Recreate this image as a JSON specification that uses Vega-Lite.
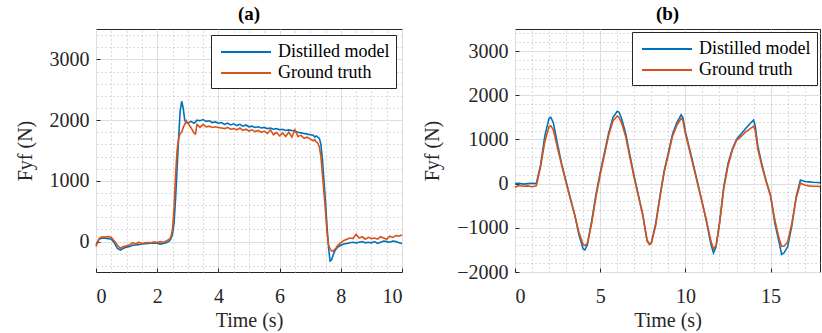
{
  "$schema": "https://vega.github.io/schema/vega-lite/v6.json",
  "background": "white",
  "padding": {"left": 14, "top": 4, "right": 0, "bottom": 0},
  "spacing": 113,
  "bounds": "flush",
  "resolve": {"scale": {"color": "independent"}, "legend": {"color": "independent"}},
  "config": {
    "view": {"stroke": "#262626", "strokeWidth": 1},
    "axis": {
      "titleFont": "Liberation Serif", "labelFont": "Liberation Serif",
      "labelFontSize": 20, "titleFontSize": 20, "titleFontWeight": "normal",
      "labelColor": "#262626", "titleColor": "#262626",
      "tickColor": "#262626", "domain": false,
      "gridColor": "#dedede", "gridWidth": 1
    },
    "legend": {"labelFont": "Liberation Serif", "labelFontSize": 18, "labelColor": "#000000"},
    "title": {"font": "Liberation Serif", "fontSize": 19, "fontWeight": "bold", "color": "#000000", "offset": 5}
  },
  "hconcat": [
    {
      "title": "(a)",
      "width": 306,
      "height": 243,
      "data": {"values": [
        {"t":0.0,"Distilled model":-50,"Ground truth":-80},
        {"t":0.1,"Distilled model":40,"Ground truth":50},
        {"t":0.2,"Distilled model":60,"Ground truth":80},
        {"t":0.3,"Distilled model":55,"Ground truth":75},
        {"t":0.4,"Distilled model":50,"Ground truth":85},
        {"t":0.5,"Distilled model":40,"Ground truth":70},
        {"t":0.6,"Distilled model":-20,"Ground truth":10},
        {"t":0.7,"Distilled model":-110,"Ground truth":-60},
        {"t":0.8,"Distilled model":-140,"Ground truth":-110},
        {"t":0.9,"Distilled model":-110,"Ground truth":-80},
        {"t":1.0,"Distilled model":-90,"Ground truth":-70},
        {"t":1.1,"Distilled model":-80,"Ground truth":-50},
        {"t":1.2,"Distilled model":-60,"Ground truth":-20},
        {"t":1.3,"Distilled model":-55,"Ground truth":-40},
        {"t":1.4,"Distilled model":-50,"Ground truth":-10},
        {"t":1.5,"Distilled model":-40,"Ground truth":-30},
        {"t":1.6,"Distilled model":-35,"Ground truth":-20},
        {"t":1.7,"Distilled model":-30,"Ground truth":-15},
        {"t":1.8,"Distilled model":-25,"Ground truth":-20},
        {"t":1.9,"Distilled model":-20,"Ground truth":-5},
        {"t":2.0,"Distilled model":-25,"Ground truth":-15},
        {"t":2.1,"Distilled model":-40,"Ground truth":0},
        {"t":2.2,"Distilled model":-30,"Ground truth":-10},
        {"t":2.3,"Distilled model":-20,"Ground truth":10},
        {"t":2.4,"Distilled model":10,"Ground truth":40},
        {"t":2.45,"Distilled model":50,"Ground truth":80},
        {"t":2.5,"Distilled model":120,"Ground truth":200},
        {"t":2.55,"Distilled model":300,"Ground truth":550},
        {"t":2.6,"Distilled model":700,"Ground truth":1100},
        {"t":2.65,"Distilled model":1200,"Ground truth":1500},
        {"t":2.7,"Distilled model":1700,"Ground truth":1700},
        {"t":2.75,"Distilled model":2150,"Ground truth":1780},
        {"t":2.8,"Distilled model":2310,"Ground truth":1800},
        {"t":2.85,"Distilled model":2200,"Ground truth":1880},
        {"t":2.9,"Distilled model":2000,"Ground truth":1930},
        {"t":2.95,"Distilled model":1960,"Ground truth":1990},
        {"t":3.0,"Distilled model":1950,"Ground truth":1950},
        {"t":3.1,"Distilled model":1980,"Ground truth":1880},
        {"t":3.2,"Distilled model":1950,"Ground truth":1790},
        {"t":3.25,"Distilled model":1970,"Ground truth":1770},
        {"t":3.3,"Distilled model":2000,"Ground truth":1930},
        {"t":3.4,"Distilled model":1990,"Ground truth":1880},
        {"t":3.5,"Distilled model":2010,"Ground truth":1930},
        {"t":3.6,"Distilled model":1980,"Ground truth":1890},
        {"t":3.7,"Distilled model":1990,"Ground truth":1900},
        {"t":3.8,"Distilled model":1960,"Ground truth":1880},
        {"t":3.9,"Distilled model":1970,"Ground truth":1890},
        {"t":4.0,"Distilled model":1950,"Ground truth":1880},
        {"t":4.1,"Distilled model":1960,"Ground truth":1870},
        {"t":4.2,"Distilled model":1930,"Ground truth":1860},
        {"t":4.3,"Distilled model":1950,"Ground truth":1880},
        {"t":4.4,"Distilled model":1920,"Ground truth":1850},
        {"t":4.5,"Distilled model":1940,"Ground truth":1860},
        {"t":4.6,"Distilled model":1910,"Ground truth":1840},
        {"t":4.7,"Distilled model":1930,"Ground truth":1870},
        {"t":4.8,"Distilled model":1900,"Ground truth":1830},
        {"t":4.9,"Distilled model":1920,"Ground truth":1850},
        {"t":5.0,"Distilled model":1890,"Ground truth":1820},
        {"t":5.1,"Distilled model":1900,"Ground truth":1840},
        {"t":5.2,"Distilled model":1880,"Ground truth":1810},
        {"t":5.3,"Distilled model":1890,"Ground truth":1830},
        {"t":5.4,"Distilled model":1870,"Ground truth":1800},
        {"t":5.5,"Distilled model":1880,"Ground truth":1820},
        {"t":5.6,"Distilled model":1860,"Ground truth":1780},
        {"t":5.7,"Distilled model":1870,"Ground truth":1840},
        {"t":5.8,"Distilled model":1850,"Ground truth":1760},
        {"t":5.9,"Distilled model":1860,"Ground truth":1800},
        {"t":6.0,"Distilled model":1840,"Ground truth":1740},
        {"t":6.1,"Distilled model":1850,"Ground truth":1790},
        {"t":6.2,"Distilled model":1830,"Ground truth":1730},
        {"t":6.3,"Distilled model":1840,"Ground truth":1800},
        {"t":6.4,"Distilled model":1830,"Ground truth":1720},
        {"t":6.5,"Distilled model":1820,"Ground truth":1840},
        {"t":6.6,"Distilled model":1800,"Ground truth":1730},
        {"t":6.7,"Distilled model":1790,"Ground truth":1750},
        {"t":6.8,"Distilled model":1780,"Ground truth":1700},
        {"t":6.9,"Distilled model":1770,"Ground truth":1720},
        {"t":7.0,"Distilled model":1760,"Ground truth":1690},
        {"t":7.1,"Distilled model":1750,"Ground truth":1660},
        {"t":7.15,"Distilled model":1720,"Ground truth":1680},
        {"t":7.2,"Distilled model":1740,"Ground truth":1640},
        {"t":7.25,"Distilled model":1720,"Ground truth":1620},
        {"t":7.3,"Distilled model":1700,"Ground truth":1560},
        {"t":7.35,"Distilled model":1600,"Ground truth":1400},
        {"t":7.4,"Distilled model":1350,"Ground truth":1100},
        {"t":7.45,"Distilled model":1000,"Ground truth":800},
        {"t":7.5,"Distilled model":650,"Ground truth":500},
        {"t":7.55,"Distilled model":250,"Ground truth":150},
        {"t":7.6,"Distilled model":-100,"Ground truth":-50},
        {"t":7.65,"Distilled model":-320,"Ground truth":-120},
        {"t":7.7,"Distilled model":-300,"Ground truth":-150},
        {"t":7.75,"Distilled model":-220,"Ground truth":-160},
        {"t":7.8,"Distilled model":-160,"Ground truth":-130},
        {"t":7.85,"Distilled model":-120,"Ground truth":-100},
        {"t":7.9,"Distilled model":-90,"Ground truth":-60},
        {"t":8.0,"Distilled model":-60,"Ground truth":-20},
        {"t":8.1,"Distilled model":-40,"Ground truth":20},
        {"t":8.2,"Distilled model":-30,"Ground truth":40},
        {"t":8.3,"Distilled model":-20,"Ground truth":60},
        {"t":8.4,"Distilled model":-10,"Ground truth":50},
        {"t":8.5,"Distilled model":-20,"Ground truth":120},
        {"t":8.6,"Distilled model":-10,"Ground truth":60},
        {"t":8.7,"Distilled model":0,"Ground truth":80},
        {"t":8.8,"Distilled model":-20,"Ground truth":40},
        {"t":8.9,"Distilled model":-10,"Ground truth":70},
        {"t":9.0,"Distilled model":-20,"Ground truth":50},
        {"t":9.1,"Distilled model":0,"Ground truth":60},
        {"t":9.2,"Distilled model":-30,"Ground truth":40},
        {"t":9.3,"Distilled model":-10,"Ground truth":80},
        {"t":9.4,"Distilled model":10,"Ground truth":60},
        {"t":9.5,"Distilled model":0,"Ground truth":40},
        {"t":9.6,"Distilled model":-10,"Ground truth":90},
        {"t":9.7,"Distilled model":10,"Ground truth":70},
        {"t":9.8,"Distilled model":0,"Ground truth":100},
        {"t":9.9,"Distilled model":-20,"Ground truth":90},
        {"t":10.0,"Distilled model":-30,"Ground truth":110}
      ]},
      "transform": [{"fold": ["Distilled model", "Ground truth"], "as": ["series", "F"]}],
      "resolve": {"axis": {"x": "independent", "y": "independent"}},
      "layer": [
        {
          "mark": {"type": "line", "opacity": 0},
          "encoding": {
            "x": {"field": "t", "type": "quantitative", "scale": {"domain": [0, 10], "nice": false},
                  "axis": {"orient": "top", "values": [0.5,1,1.5,2.5,3,3.5,4.5,5,5.5,6.5,7,7.5,8.5,9,9.5], "labels": false, "ticks": false, "title": null, "grid": true, "gridDash": [1, 3], "gridColor": "#b8b8b8"}},
            "y": {"field": "F", "type": "quantitative", "scale": {"domain": [-500, 3500], "nice": false},
                  "axis": {"orient": "right", "values": [-400,-200,200,400,600,800,1200,1400,1600,1800,2200,2400,2600,2800,3200,3400], "labels": false, "ticks": false, "title": null, "grid": true, "gridDash": [1, 3], "gridColor": "#b8b8b8"}},
            "detail": {"field": "series"}
          }
        },
        {
          "mark": {"type": "line", "strokeWidth": 1.6},
          "encoding": {
            "x": {"field": "t", "type": "quantitative", "scale": {"domain": [0, 10], "nice": false},
                  "axis": {"orient": "bottom", "values": [0,2,4,6,8,10], "format": "d", "title": "Time (s)", "grid": true, "tickSize": -4, "labelPadding": 18, "titlePadding": 4}},
            "y": {"field": "F", "type": "quantitative", "scale": {"domain": [-500, 3500], "nice": false},
                  "axis": {"orient": "left", "values": [0,1000,2000,3000], "format": "d", "title": "Fyf (N)", "grid": true, "tickSize": -4, "labelPadding": 11, "titlePadding": 14}},
            "color": {"field": "series", "type": "nominal",
                      "scale": {"domain": ["Distilled model", "Ground truth"], "range": ["#0072BD", "#D95319"]},
                      "legend": {"title": null, "orient": "top-right", "offset": 6, "strokeColor": "#262626", "fillColor": "white", "padding": 6, "symbolType": "M-0.7,0H4.3", "symbolSize": 400, "symbolStrokeWidth": 2, "labelOffset": 39, "rowPadding": 1, "labelLimit": 300}}
          }
        }
      ]
    },
    {
      "title": "(b)",
      "width": 305,
      "height": 243,
      "data": {"values": [
        {"t":0,"Distilled model":0,"Ground truth":-80},
        {"t":0.25,"Distilled model":10,"Ground truth":-40},
        {"t":0.5,"Distilled model":-10,"Ground truth":-60},
        {"t":0.75,"Distilled model":0,"Ground truth":-50},
        {"t":1.0,"Distilled model":10,"Ground truth":-70},
        {"t":1.25,"Distilled model":0,"Ground truth":-50},
        {"t":1.5,"Distilled model":420,"Ground truth":380},
        {"t":1.75,"Distilled model":1080,"Ground truth":950},
        {"t":2.0,"Distilled model":1480,"Ground truth":1290},
        {"t":2.1,"Distilled model":1500,"Ground truth":1310},
        {"t":2.25,"Distilled model":1380,"Ground truth":1220},
        {"t":2.5,"Distilled model":880,"Ground truth":800},
        {"t":2.75,"Distilled model":430,"Ground truth":400},
        {"t":3.0,"Distilled model":50,"Ground truth":20},
        {"t":3.25,"Distilled model":-330,"Ground truth":-350},
        {"t":3.5,"Distilled model":-700,"Ground truth":-700},
        {"t":3.75,"Distilled model":-1150,"Ground truth":-1100},
        {"t":4.0,"Distilled model":-1480,"Ground truth":-1380},
        {"t":4.1,"Distilled model":-1500,"Ground truth":-1400},
        {"t":4.25,"Distilled model":-1380,"Ground truth":-1350},
        {"t":4.5,"Distilled model":-850,"Ground truth":-900},
        {"t":4.75,"Distilled model":-250,"Ground truth":-300},
        {"t":5.0,"Distilled model":250,"Ground truth":200},
        {"t":5.25,"Distilled model":700,"Ground truth":650},
        {"t":5.5,"Distilled model":1150,"Ground truth":1100},
        {"t":5.75,"Distilled model":1500,"Ground truth":1420},
        {"t":6.0,"Distilled model":1640,"Ground truth":1530},
        {"t":6.1,"Distilled model":1620,"Ground truth":1500},
        {"t":6.25,"Distilled model":1480,"Ground truth":1380},
        {"t":6.5,"Distilled model":1130,"Ground truth":1060},
        {"t":6.75,"Distilled model":630,"Ground truth":580},
        {"t":7.0,"Distilled model":160,"Ground truth":120},
        {"t":7.25,"Distilled model":-270,"Ground truth":-300},
        {"t":7.5,"Distilled model":-700,"Ground truth":-720},
        {"t":7.75,"Distilled model":-1280,"Ground truth":-1300},
        {"t":7.9,"Distilled model":-1370,"Ground truth":-1380},
        {"t":8.0,"Distilled model":-1340,"Ground truth":-1350},
        {"t":8.25,"Distilled model":-920,"Ground truth":-960},
        {"t":8.5,"Distilled model":-300,"Ground truth":-330},
        {"t":8.75,"Distilled model":280,"Ground truth":250},
        {"t":9.0,"Distilled model":700,"Ground truth":660},
        {"t":9.25,"Distilled model":1130,"Ground truth":1080},
        {"t":9.5,"Distilled model":1380,"Ground truth":1320},
        {"t":9.75,"Distilled model":1560,"Ground truth":1480},
        {"t":9.85,"Distilled model":1500,"Ground truth":1430},
        {"t":10.0,"Distilled model":1180,"Ground truth":1130},
        {"t":10.25,"Distilled model":780,"Ground truth":740},
        {"t":10.5,"Distilled model":380,"Ground truth":340},
        {"t":10.75,"Distilled model":-30,"Ground truth":-60},
        {"t":11.0,"Distilled model":-440,"Ground truth":-460},
        {"t":11.25,"Distilled model":-880,"Ground truth":-860},
        {"t":11.5,"Distilled model":-1380,"Ground truth":-1300},
        {"t":11.65,"Distilled model":-1570,"Ground truth":-1480},
        {"t":11.8,"Distilled model":-1430,"Ground truth":-1400},
        {"t":12.0,"Distilled model":-900,"Ground truth":-920},
        {"t":12.25,"Distilled model":-80,"Ground truth":-120},
        {"t":12.5,"Distilled model":450,"Ground truth":400},
        {"t":12.75,"Distilled model":780,"Ground truth":750},
        {"t":13.0,"Distilled model":1000,"Ground truth":980},
        {"t":13.25,"Distilled model":1120,"Ground truth":1060},
        {"t":13.5,"Distilled model":1230,"Ground truth":1160},
        {"t":13.75,"Distilled model":1340,"Ground truth":1230},
        {"t":14.0,"Distilled model":1440,"Ground truth":1300},
        {"t":14.1,"Distilled model":1300,"Ground truth":1200},
        {"t":14.25,"Distilled model":850,"Ground truth":780},
        {"t":14.5,"Distilled model":420,"Ground truth":380},
        {"t":14.75,"Distilled model":50,"Ground truth":30},
        {"t":15.0,"Distilled model":-270,"Ground truth":-280},
        {"t":15.25,"Distilled model":-900,"Ground truth":-820},
        {"t":15.5,"Distilled model":-1330,"Ground truth":-1250},
        {"t":15.65,"Distilled model":-1600,"Ground truth":-1420},
        {"t":15.8,"Distilled model":-1560,"Ground truth":-1410},
        {"t":16.0,"Distilled model":-1430,"Ground truth":-1320},
        {"t":16.25,"Distilled model":-950,"Ground truth":-900},
        {"t":16.5,"Distilled model":-300,"Ground truth":-330},
        {"t":16.75,"Distilled model":80,"Ground truth":10},
        {"t":17.0,"Distilled model":50,"Ground truth":-30},
        {"t":17.25,"Distilled model":40,"Ground truth":-50},
        {"t":17.5,"Distilled model":30,"Ground truth":-60},
        {"t":17.75,"Distilled model":25,"Ground truth":-60},
        {"t":17.9,"Distilled model":20,"Ground truth":-70}
      ]},
      "transform": [{"fold": ["Distilled model", "Ground truth"], "as": ["series", "F"]}],
      "resolve": {"axis": {"x": "independent", "y": "independent"}},
      "layer": [
        {
          "mark": {"type": "line", "opacity": 0},
          "encoding": {
            "x": {"field": "t", "type": "quantitative", "scale": {"domain": [0, 17.9], "nice": false},
                  "axis": {"orient": "top", "values": [1,2,3,4,6,7,8,9,11,12,13,14,16,17], "labels": false, "ticks": false, "title": null, "grid": true, "gridDash": [1, 3], "gridColor": "#b8b8b8"}},
            "y": {"field": "F", "type": "quantitative", "scale": {"domain": [-2000, 3500], "nice": false},
                  "axis": {"orient": "right", "values": [-1800,-1600,-1400,-1200,-800,-600,-400,-200,200,400,600,800,1200,1400,1600,1800,2200,2400,2600,2800,3200,3400], "labels": false, "ticks": false, "title": null, "grid": true, "gridDash": [1, 3], "gridColor": "#b8b8b8"}},
            "detail": {"field": "series"}
          }
        },
        {
          "mark": {"type": "line", "strokeWidth": 1.6},
          "encoding": {
            "x": {"field": "t", "type": "quantitative", "scale": {"domain": [0, 17.9], "nice": false},
                  "axis": {"orient": "bottom", "values": [0,5,10,15], "format": "d", "title": "Time (s)", "grid": true, "tickSize": -4, "labelPadding": 18, "titlePadding": 4}},
            "y": {"field": "F", "type": "quantitative", "scale": {"domain": [-2000, 3500], "nice": false},
                  "axis": {"orient": "left", "values": [-2000,-1000,0,1000,2000,3000], "format": "d", "title": "Fyf (N)", "grid": true, "tickSize": -4, "labelPadding": 11, "titlePadding": 14}},
            "color": {"field": "series", "type": "nominal",
                      "scale": {"domain": ["Distilled model", "Ground truth"], "range": ["#0072BD", "#D95319"]},
                      "legend": {"title": null, "orient": "top-right", "offset": 3, "strokeColor": "#262626", "fillColor": "white", "padding": 6, "symbolType": "M-0.7,0H4.3", "symbolSize": 400, "symbolStrokeWidth": 2, "labelOffset": 39, "rowPadding": 1, "labelLimit": 300}}
          }
        }
      ]
    }
  ]
}
